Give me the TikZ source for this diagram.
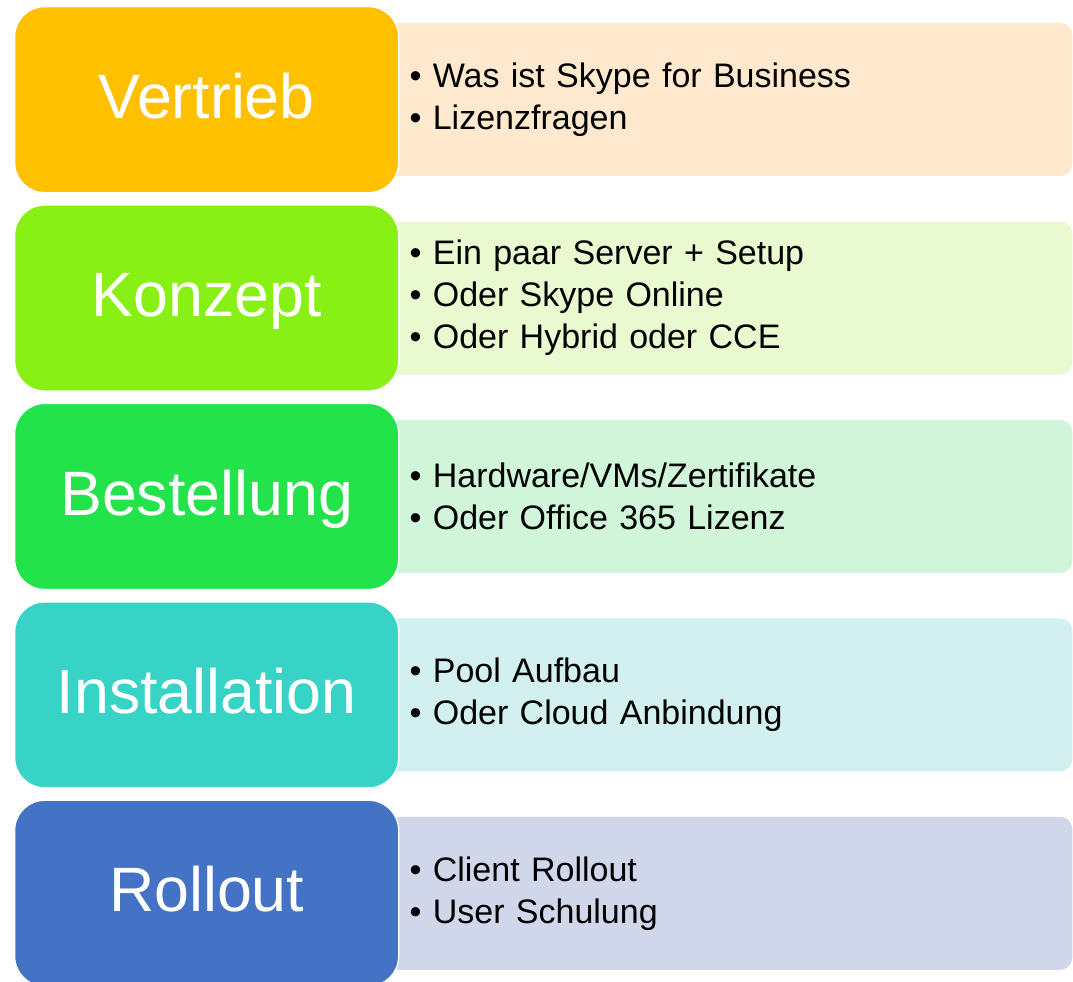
\documentclass[tikz,border=0pt]{standalone}
\usepackage{fontspec}
\setmainfont{Liberation Sans}
\usepackage{xcolor}
\usetikzlibrary{positioning, backgrounds}
\definecolor{vertriebdark}{HTML}{FFC000}
\definecolor{vertrieblight}{HTML}{FEE8CE}
\definecolor{konzeptdark}{HTML}{88F014}
\definecolor{konzeptlight}{HTML}{E9F9D0}
\definecolor{bestelldark}{HTML}{22E34A}
\definecolor{bestelllight}{HTML}{D0F5D8}
\definecolor{installdark}{HTML}{36D3C6}
\definecolor{installlight}{HTML}{D1F0EF}
\definecolor{rolloutdark}{HTML}{4472C4}
\definecolor{rolloutlight}{HTML}{D1D7EB}
\newcommand{\bul}{•\ }
\tikzset{
  % phase node style
  phase/.style={
    draw=white
    , line width=1pt
    , rounded corners=22.5pt
    , minimum width=288pt
    , minimum height=139.5pt
    , text=white
    , text height=34pt
    , text depth=6pt
    , font=\fontsize{47}{56}\selectfont
  },
}
\tikzset{
  % bullet list node style
  info/.style={
    rounded corners=9pt
    , text width=476pt
    , inner xsep=21pt
    , minimum height=114.75pt
    , align=left
    , font=\fontsize{25.5}{31.5}\selectfont
  },
}
\begin{document}
\begin{tikzpicture}[node distance=8.3pt]
  \useasboundingbox (0,0) rectangle (804.75pt,-735.75pt);
  \clip (0,0) rectangle (804.75pt,-735.75pt);
  \node[phase, fill=vertriebdark, anchor=north west] (vertrieb) at (10.5pt,-4.5pt) {Vertrieb};
  \node[phase, fill=konzeptdark, below=of vertrieb] (konzept) {Konzept};
  \node[phase, fill=bestelldark, below=of konzept] (bestellung) {Bestellung};
  \node[phase, fill=installdark, below=of bestellung] (installation) {Installation};
  \node[phase, fill=rolloutdark, below=of installation] (rollout) {Rollout};
  \begin{scope}[on background layer]
    \node[info, fill=vertrieblight, right=-13.5pt of vertrieb] (vertrieb-info)
      {\bul Was ist Skype for Business\\
       \bul Lizenzfragen};
    \node[info, fill=konzeptlight, right=-13.5pt of konzept] (konzept-info)
      {\bul Ein paar Server + Setup\\
       \bul Oder Skype Online\\
       \bul Oder Hybrid oder CCE};
    \node[info, fill=bestelllight, right=-13.5pt of bestellung] (bestellung-info)
      {\bul Hardware/VMs/Zertifikate\\
       \bul Oder Office 365 Lizenz};
    \node[info, fill=installlight, right=-13.5pt of installation] (installation-info)
      {\bul Pool Aufbau\\
       \bul Oder Cloud Anbindung};
    \node[info, fill=rolloutlight, right=-13.5pt of rollout] (rollout-info)
      {\bul Client Rollout\\
       \bul User Schulung};
  \end{scope}
\end{tikzpicture}
\end{document}
